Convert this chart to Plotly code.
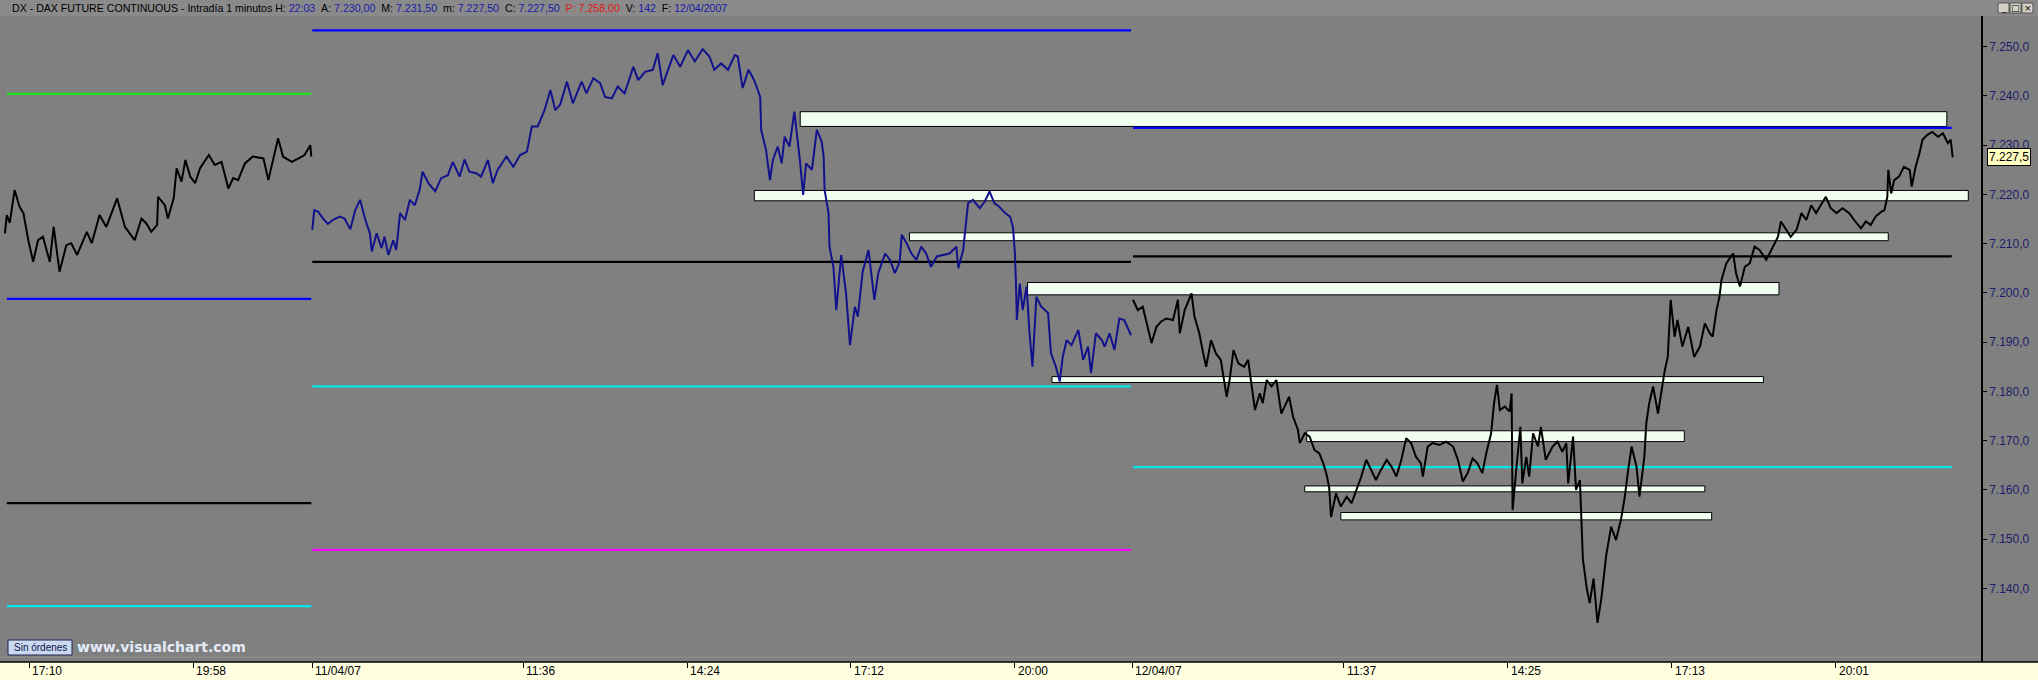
import plotly.graph_objects as go

# ---------------- DATA ----------------
# x = bar index of the 1-minute chart (bar 0 = 10/04 16:40; 11/04 08:00 = bar 320; 12/04 08:00 = bar 1160)
d1_x = [5, 7, 10, 15, 20, 24, 29, 34, 39, 44, 51, 55, 61, 68, 73, 79, 89, 94, 102, 109,
        120, 128, 138, 145, 150, 155, 161, 162, 169, 172, 178, 181, 186, 190, 195, 200, 205, 214, 220, 227,
        234, 239, 244, 251, 259, 270, 275, 280, 285, 290, 299, 306, 312, 318, 319]
d1_y = [7212.1, 7215.8, 7214.2, 7220.9, 7217.5, 7216.2, 7210.7, 7206.3, 7210.7, 7211.4,
        7206.3, 7213.4, 7204.3, 7209.7, 7210.1, 7207.7, 7212.4, 7210.1, 7215.8, 7213.4,
        7219.2, 7213.4, 7210.7, 7215.1, 7214.1, 7212.4, 7213.8, 7219.5, 7217.8, 7215.1,
        7219.2, 7225.3, 7222.6, 7227.0, 7223.6, 7222.3, 7225.3, 7228.0, 7226.0, 7226.6,
        7221.2, 7223.3, 7222.9, 7226.3, 7227.7, 7227.3, 7222.9, 7227.0, 7231.4, 7227.7,
        7226.6, 7227.3, 7228.0, 7230.0, 7227.7]

d2_x = [320, 322, 326, 331, 336, 341, 348, 353, 359, 364, 369, 374, 379, 381, 386, 391, 394, 398, 403, 406,
        410, 415, 420, 425, 430, 433, 439, 446, 452, 459, 464, 471, 476, 481, 488, 493, 500, 505, 510, 519,
        526, 533, 540, 545, 551, 558, 564, 569, 574, 581, 587, 596, 601, 608, 615, 620, 627, 633, 640, 649,
        654, 661, 669, 674, 679, 685, 690, 697, 705, 712, 720, 727, 732, 739, 746, 753, 756, 761, 767, 771,
        774, 779, 780, 785, 789, 792, 797, 801, 804, 809, 814, 820, 823, 826, 832, 837, 842, 844, 845, 849,
        850, 854, 857, 862, 867, 871, 876, 879, 884, 890, 896, 900, 907, 912, 917, 922, 924, 929, 934, 939,
        944, 949, 954, 960, 966, 973, 980, 982, 987, 990, 992, 997, 1004, 1009, 1014, 1019, 1024, 1030, 1035, 1038,
        1040, 1041, 1042, 1045, 1048, 1052, 1055, 1058, 1062, 1067, 1074, 1077, 1082, 1086, 1089, 1093, 1098, 1105, 1110, 1115,
        1118, 1123, 1129, 1132, 1137, 1142, 1147, 1152, 1159]
d2_y = [7212.8, 7216.8, 7216.5, 7215.1, 7214.0, 7214.8, 7215.5, 7215.1, 7212.9, 7216.8,
        7218.9, 7215.1, 7212.1, 7208.4, 7212.1, 7209.1, 7211.4, 7207.7, 7210.7, 7208.7,
        7216.2, 7214.8, 7218.9, 7217.8, 7220.9, 7224.6, 7222.3, 7220.6, 7223.3, 7223.9,
        7226.6, 7223.6, 7227.1, 7224.6, 7224.3, 7223.6, 7227.0, 7222.3, 7225.0, 7227.7,
        7225.6, 7228.0, 7228.7, 7233.8, 7233.8, 7237.1, 7241.2, 7237.1, 7238.2, 7242.9,
        7238.5, 7242.9, 7240.5, 7243.6, 7242.6, 7239.8, 7239.5, 7241.9, 7240.5, 7245.9,
        7243.2, 7244.9, 7245.3, 7248.7, 7242.2, 7245.3, 7248.3, 7245.9, 7249.3, 7247.0,
        7249.5, 7248.0, 7245.3, 7246.6, 7245.3, 7248.3, 7248.0, 7241.6, 7245.3, 7243.9,
        7242.6, 7239.8, 7233.1, 7229.0, 7222.9, 7227.0, 7229.7, 7226.3, 7231.7, 7229.7,
        7236.8, 7226.3, 7219.9, 7226.3, 7225.0, 7233.1, 7230.7, 7227.7, 7220.9, 7216.2,
        7209.4, 7205.3, 7196.5, 7207.7, 7199.9, 7189.4, 7197.2, 7195.2, 7204.3, 7208.7,
        7198.6, 7204.0, 7208.0, 7206.7, 7204.0, 7206.3, 7211.8, 7210.1, 7208.0, 7206.7,
        7209.4, 7208.0, 7205.3, 7207.4, 7207.7, 7208.0, 7209.4, 7205.0, 7208.7, 7214.8,
        7218.2, 7218.9, 7217.2, 7218.5, 7220.6, 7218.2, 7217.5, 7216.2, 7215.5, 7213.4,
        7208.0, 7202.6, 7194.5, 7201.9, 7196.5, 7201.3, 7191.8, 7185.0, 7199.2, 7197.2,
        7195.9, 7187.7, 7185.0, 7182.0, 7187.0, 7190.4, 7189.4, 7192.5, 7186.4, 7189.1,
        7183.7, 7191.8, 7190.4, 7189.1, 7191.8, 7188.4, 7194.8, 7194.5, 7191.4]

d3_x = [1161, 1166, 1171, 1175, 1180, 1185, 1190, 1195, 1202, 1207, 1209, 1214, 1221, 1224, 1229, 1233, 1236, 1241, 1246, 1251,
        1257, 1260, 1264, 1269, 1275, 1279, 1282, 1286, 1291, 1294, 1298, 1303, 1308, 1313, 1318, 1321, 1325, 1330, 1332, 1337,
        1342, 1347, 1352, 1356, 1359, 1362, 1364, 1369, 1374, 1380, 1385, 1390, 1395, 1400, 1405, 1410, 1415, 1421, 1426, 1431,
        1436, 1441, 1446, 1451, 1456, 1458, 1463, 1468, 1475, 1482, 1489, 1494, 1499, 1504, 1509, 1514, 1519, 1523, 1528, 1531,
        1534, 1537, 1542, 1547, 1549, 1550, 1554, 1558, 1560, 1564, 1567, 1571, 1576, 1579, 1584, 1591, 1596, 1601, 1605, 1607,
        1612, 1615, 1619, 1622, 1626, 1629, 1633, 1637, 1641, 1646, 1651, 1656, 1661, 1665, 1668, 1672, 1677, 1680, 1685, 1687,
        1690, 1694, 1699, 1702, 1706, 1709, 1712, 1716, 1719, 1724, 1730, 1736, 1742, 1747, 1752, 1755, 1759, 1762, 1764, 1769,
        1776, 1779, 1783, 1788, 1793, 1798, 1803, 1810, 1817, 1822, 1825, 1830, 1835, 1841, 1846, 1851, 1856, 1861, 1866, 1871,
        1876, 1882, 1888, 1895, 1900, 1907, 1912, 1917, 1922, 1928, 1931, 1934, 1935, 1938, 1941, 1946, 1951, 1957, 1959, 1963,
        1967, 1970, 1975, 1980, 1986, 1991, 1996, 1999, 2001]
d3_y = [7198.6, 7196.5, 7197.2, 7193.8, 7189.8, 7193.1, 7194.2, 7194.8, 7194.5, 7198.6,
        7191.8, 7196.5, 7199.9, 7195.2, 7191.8, 7187.7, 7185.0, 7190.4, 7187.7, 7186.4,
        7178.9, 7182.3, 7188.4, 7185.7, 7185.0, 7186.4, 7181.6, 7176.2, 7179.6, 7177.6,
        7182.3, 7181.0, 7182.3, 7175.5, 7177.6, 7178.9, 7174.9, 7172.2, 7169.5, 7171.5,
        7170.8, 7168.1, 7167.4, 7165.4, 7163.4, 7160.6, 7154.5, 7159.3, 7156.6, 7158.6,
        7157.3, 7160.0, 7162.7, 7166.1, 7164.0, 7162.0, 7164.0, 7166.1, 7164.7, 7162.7,
        7166.1, 7170.5, 7169.5, 7166.7, 7165.4, 7162.7, 7168.8, 7169.5, 7169.1, 7169.8,
        7168.8, 7166.1, 7161.7, 7163.4, 7166.4, 7165.4, 7163.4, 7167.4, 7171.5, 7177.6,
        7181.3, 7176.2, 7176.9, 7175.9, 7179.6, 7155.9, 7164.7, 7172.8, 7161.3, 7166.7,
        7162.7, 7171.5, 7168.8, 7172.8, 7166.1, 7168.8, 7169.8, 7167.7, 7169.5, 7161.3,
        7170.8, 7160.0, 7162.0, 7146.0, 7140.0, 7137.0, 7142.0, 7133.0, 7138.0, 7146.8,
        7152.5, 7149.8, 7153.9, 7158.6, 7163.4, 7168.8, 7164.7, 7158.6, 7166.7, 7173.5,
        7177.6, 7181.0, 7175.5, 7179.6, 7184.3, 7187.0, 7198.6, 7191.1, 7194.5, 7189.1,
        7193.1, 7187.0, 7189.1, 7193.8, 7191.8, 7191.1, 7196.5, 7199.2, 7202.6, 7206.0,
        7208.0, 7204.0, 7201.3, 7205.3, 7206.0, 7209.4, 7208.7, 7206.7, 7209.4, 7211.4,
        7214.5, 7212.8, 7211.4, 7212.8, 7216.2, 7214.8, 7217.8, 7216.2, 7217.8, 7219.5,
        7217.2, 7216.2, 7217.2, 7216.2, 7214.8, 7213.1, 7214.5, 7213.8, 7215.5, 7216.5,
        7216.8, 7219.5, 7225.0, 7220.2, 7222.9, 7223.6, 7225.6, 7225.0, 7221.6, 7225.6,
        7228.4, 7231.1, 7232.1, 7232.7, 7231.7, 7232.4, 7230.4, 7231.1, 7227.5]

# daily pivot levels: (start bar, end bar) and values/colours
lvl_d1_span = [7, 319]
lvl_d1_vals = [7240.4, 7198.8, 7157.3, 7136.4]
lvl_d1_cols = ["#22e022", "#0000ff", "#000000", "#00e8e8"]
lvl_d2_span = [320, 1159]
lvl_d2_vals = [7253.3, 7206.3, 7181.0, 7147.8]
lvl_d2_cols = ["#0000ff", "#000000", "#00e8e8", "#ff00ff"]
lvl_d3_span = [1161, 2000]
lvl_d3_vals = [7233.5, 7207.4, 7164.6]
lvl_d3_cols = ["#0000ff", "#000000", "#00e8e8"]

# support / resistance zones
box_left = [820, 773, 932, 1053, 1078, 1339, 1337, 1374]
box_right = [1995, 2017, 1935, 1823, 1807, 1726, 1747, 1754]
box_low = [7233.8, 7218.7, 7210.6, 7199.6, 7181.8, 7169.8, 7159.6, 7153.9]
box_high = [7236.8, 7220.8, 7212.2, 7202.1, 7183.0, 7172.0, 7160.8, 7155.4]

# x axis ticks: (day index, label, hh:mm)
day_start = [-520, 320, 1160]   # bar of 08:00 for each day
tick_defs = [(0, "17:10", "17:10"), (0, "19:58", "19:58"), (1, "11/04/07", "08:00"), (1, "11:36", "11:36"),
             (1, "14:24", "14:24"), (1, "17:12", "17:12"), (1, "20:00", "20:00"), (2, "12/04/07", "08:00"),
             (2, "11:37", "11:37"), (2, "14:25", "14:25"), (2, "17:13", "17:13"), (2, "20:01", "20:01")]
y_ticks = [7140, 7150, 7160, 7170, 7180, 7190, 7200, 7210, 7220, 7230, 7240, 7250]
last_price = 7227.5

header_parts = [("DX - DAX FUTURE CONTINUOUS - Intradía 1 minutos ", "k"), ("H: ", "k"), ("22:03", "v"),
                ("  A: ", "k"), ("7.230,00", "v"), ("  M: ", "k"), ("7.231,50", "v"), ("  m: ", "k"),
                ("7.227,50", "v"), ("  C: ", "k"), ("7.227,50", "v"), ("  P: ", "r"), ("7.258,00", "r"),
                ("  V: ", "k"), ("142", "v"), ("  F: ", "k"), ("12/04/2007", "v")]

# ---------------- FIGURE ----------------
W, H = 2038, 680
L, R, T, B = 0, 57, 16, 18
PW, PH = W - L - R, H - T - B
def px(x):
    return (x - L) / PW
def py(y):
    return (H - B - y) / PH

fig = go.Figure()

for span, vals, cols in [(lvl_d1_span, lvl_d1_vals, lvl_d1_cols),
                         (lvl_d2_span, lvl_d2_vals, lvl_d2_cols),
                         (lvl_d3_span, lvl_d3_vals, lvl_d3_cols)]:
    for v, c in zip(vals, cols):
        fig.add_trace(go.Scatter(x=span, y=[v, v], mode="lines", line=dict(color=c, width=2.2),
                                 hoverinfo="skip", showlegend=False))

fig.add_trace(go.Scatter(x=d1_x, y=d1_y, mode="lines", line=dict(color="#000000", width=2),
                         showlegend=False))
fig.add_trace(go.Scatter(x=d2_x, y=d2_y, mode="lines", line=dict(color="#12128c", width=2),
                         showlegend=False))
fig.add_trace(go.Scatter(x=d3_x, y=d3_y, mode="lines", line=dict(color="#000000", width=2),
                         showlegend=False))

shapes = []
for x0, x1, y0, y1 in zip(box_left, box_right, box_low, box_high):
    shapes.append(dict(type="rect", xref="x", yref="y", x0=x0, x1=x1, y0=y0, y1=y1,
                       fillcolor="#f0fff0", line=dict(color="#000000", width=1), layer="between"))

# header strip
shapes.append(dict(type="rect", xref="paper", yref="paper", x0=px(0), x1=px(W), y0=py(16), y1=py(0),
                   fillcolor="#8a8a8a", line=dict(width=0), layer="below"))
# bottom yellow strip
shapes.append(dict(type="rect", xref="paper", yref="paper", x0=px(0), x1=px(W), y0=py(H), y1=py(662),
                   fillcolor="#ffffe0", line=dict(width=0), layer="below"))
shapes.append(dict(type="line", xref="paper", yref="paper", x0=px(0), x1=px(W), y0=py(662), y1=py(662),
                   line=dict(color="#000000", width=1.5), layer="above"))
# thin band above axis
shapes.append(dict(type="line", xref="paper", yref="paper", x0=px(0), x1=px(1981), y0=py(657), y1=py(657),
                   line=dict(color="#909090", width=1), layer="above"))
# window buttons
for i, g in enumerate(["_", "□", "×"]):
    bx = 1998 + i * 12
    shapes.append(dict(type="rect", xref="paper", yref="paper", x0=px(bx), x1=px(bx + 11), y0=py(13), y1=py(3),
                       fillcolor="#d4d0c8", line=dict(color="#505050", width=1), layer="above"))
# Sin órdenes button
shapes.append(dict(type="rect", xref="paper", yref="paper", x0=px(8), x1=px(72), y0=py(655), y1=py(640),
                   fillcolor="#c9d9f0", line=dict(color="#202050", width=1), layer="above"))

annotations = []
for d, lab, hm in tick_defs:
    hh, mm = hm.split(":")
    b = day_start[d] + int(hh) * 60 + int(mm) - 480
    annotations.append(dict(x=b, xref="x", y=py(671), yref="paper", text=lab, showarrow=False,
                            xanchor="left", yanchor="middle", xshift=1,
                            font=dict(family="Liberation Sans, Arial", size=12, color="#000000")))

colmap = {"k": "#000000", "v": "#1a1aa8", "r": "#e01818"}
htxt = "".join("<span style='color:%s'>%s</span>" % (colmap[c], t.replace("  ", " &nbsp;"))
               for t, c in header_parts)
annotations.append(dict(x=px(10), y=py(8), xref="paper", yref="paper", text=htxt, showarrow=False,
                        xanchor="left", yanchor="middle",
                        font=dict(family="Liberation Sans, Arial", size=10.6, color="#000000")))
for i, g in enumerate(["_", "□", "×"]):
    bx = 1998 + i * 12
    annotations.append(dict(x=px(bx + 5.5), y=py(8), xref="paper", yref="paper", text=g, showarrow=False,
                            xanchor="center", yanchor="middle",
                            font=dict(family="DejaVu Sans", size=9, color="#000000")))
annotations.append(dict(x=px(40), y=py(647.5), xref="paper", yref="paper", text="Sin órdenes", showarrow=False,
                        xanchor="center", yanchor="middle",
                        font=dict(family="Liberation Sans, Arial", size=10, color="#10104a")))
annotations.append(dict(x=px(75), y=py(647), xref="paper", yref="paper", text="<b>www.visualchart.com</b>",
                        showarrow=False, xanchor="left", yanchor="middle",
                        font=dict(family="DejaVu Sans", size=14, color="#e4ebf8")))
annotations.append(dict(x=px(1987), y=last_price, xref="paper", yref="y", text="7.227,5", showarrow=False,
                        xanchor="left", yanchor="middle", bgcolor="#ffffc0", bordercolor="#000000",
                        borderwidth=1, borderpad=1,
                        font=dict(family="Liberation Sans, Arial", size=12, color="#000000")))

tick_bars = [day_start[d] + int(hm.split(":")[0]) * 60 + int(hm.split(":")[1]) - 480 for d, _, hm in tick_defs]

fig.update_layout(
    width=W, height=H, autosize=False,
    margin=dict(l=L, r=R, t=T, b=B, pad=0),
    paper_bgcolor="#808080", plot_bgcolor="#808080",
    separators=",.",
    showlegend=False,
    shapes=shapes, annotations=annotations,
    xaxis=dict(range=[0, 2030], showgrid=False, zeroline=False, showline=False,
               tickvals=tick_bars, ticks="outside", ticklen=5, tickcolor="#000000",
               showticklabels=False, fixedrange=True),
    yaxis=dict(range=[7125.04, 7256.23], side="right", showgrid=False, zeroline=False,
               showline=True, linecolor="#000000", linewidth=1.5, mirror=False,
               tickvals=y_ticks, tickformat=",.1f", ticks="outside", ticklen=4, tickcolor="#000000",
               tickfont=dict(family="Liberation Sans, Arial", size=12, color="#1c1c6a")),
)

fig.write_html("out.html", config={"displayModeBar": False},
               post_script="document.body.style.margin='0';document.body.style.overflow='hidden';")
